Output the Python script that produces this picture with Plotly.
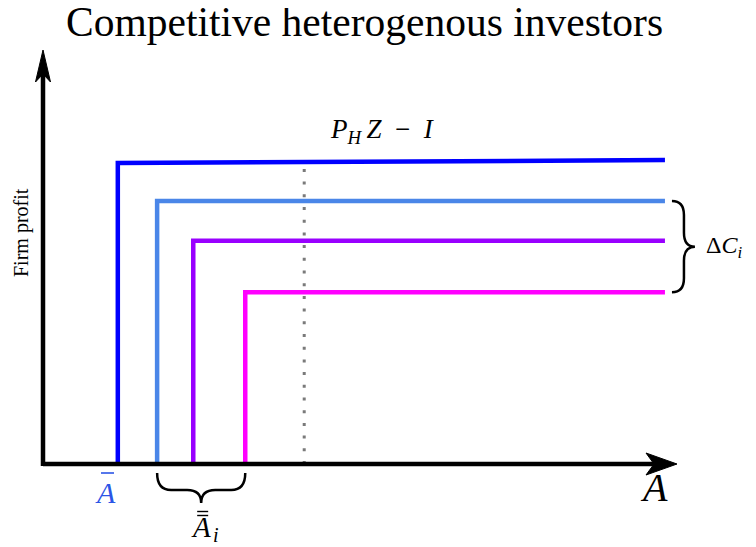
import plotly.graph_objects as go

# ---------------- data ----------------
investors = ["investor 1", "investor 2", "investor 3", "investor 4"]
entry_A = [1.18, 1.80, 2.37, 3.19]          # threshold A where each investor starts funding
profit_at_entry = [7.27, 6.35, 5.39, 4.15]  # firm profit once funded
profit_at_end = [7.34, 6.35, 5.39, 4.15]
A_end = 9.81
colors = ["#0000FF", "#4A86E8", "#9900FF", "#FF00FF"]
ref_A = 4.12        # dotted reference line
ref_top = 7.2
axis_x_len = 10.0
axis_y_len = 10.0

title_text = "Competitive heterogenous investors"
y_label = "Firm profit"

# ---------------- geometry helpers ----------------
W, H = 756, 547
OFF = 8                # page body margin
X0, Y0 = 43 - OFF, 464 - OFF   # figure pixel position of origin
SX, SY = 63.4, 41.4    # pixels per data unit
x_range = [-X0 / SX, (W - X0) / SX]
y_range = [-(H - Y0) / SY, Y0 / SY]


def dx(p):
    return p / SX


def dy(p):
    return p / SY


def rx(p):  # on-screen pixel -> data x
    return (p - 43) / SX


def ry(p):  # on-screen pixel -> data y
    return (464 - p) / SY


fig = go.Figure()

# dotted reference
fig.add_trace(go.Scatter(x=[ref_A, ref_A], y=[0, ref_top], mode="lines",
                         line=dict(color="#7a7a7a", width=3, dash="3px,9.7px"),
                         hoverinfo="skip", showlegend=False))

# investor profit curves
for name, a, p0, p1, c in zip(investors, entry_A, profit_at_entry, profit_at_end, colors):
    fig.add_trace(go.Scatter(x=[a, a, A_end], y=[0, p0, p1], mode="lines",
                             line=dict(color=c, width=4.5), name=name,
                             hoverinfo="skip", showlegend=False))

shapes = []
# axes lines
shapes.append(dict(type="line", xref="x", yref="y", x0=0, y0=0, x1=axis_x_len - dx(22), y1=0,
                   line=dict(color="black", width=4.5)))
shapes.append(dict(type="line", xref="x", yref="y", x0=0, y0=-dy(2), x1=0, y1=axis_y_len - dy(24),
                   line=dict(color="black", width=4.5)))
# arrow heads
tx, ty = axis_x_len, 0
px = (f"M {tx},{ty} L {tx - dx(31)},{ty + dy(11)} L {tx - dx(23)},{ty} "
      f"L {tx - dx(31)},{ty - dy(11)} Z")
shapes.append(dict(type="path", xref="x", yref="y", path=px, fillcolor="black",
                   line=dict(color="black", width=1)))
tx, ty = 0, axis_y_len
py = (f"M {tx},{ty} L {tx - dx(7.5)},{ty - dy(32)} L {tx},{ty - dy(24)} "
      f"L {tx + dx(7.5)},{ty - dy(32)} Z")
shapes.append(dict(type="path", xref="x", yref="y", path=py, fillcolor="black",
                   line=dict(color="black", width=1)))

# bottom curly brace, spanning investors 2..4 entry points
x1, x2 = entry_A[1], entry_A[3]
xm = (x1 + x2) / 2
yt, ym, yb = -dy(9), -dy(26), -dy(39)
r = dx(14)
bb = (f"M {x1},{yt} Q {x1},{ym} {x1 + r},{ym} L {xm - r},{ym} Q {xm},{ym} {xm},{yb} "
      f"Q {xm},{ym} {xm + r},{ym} L {x2 - r},{ym} Q {x2},{ym} {x2},{yt}")
shapes.append(dict(type="path", xref="x", yref="y", path=bb,
                   line=dict(color="black", width=2.5)))

# right curly brace, spanning investors 2..4 profits
y1, y2 = profit_at_end[1], profit_at_end[3]
ymid = (y1 + y2) / 2
xl, xmid, xt = A_end + dx(7), A_end + dx(19), A_end + dx(30)
r = dy(14)
rb = (f"M {xl},{y1} Q {xmid},{y1} {xmid},{y1 - r} L {xmid},{ymid + r} Q {xmid},{ymid} {xt},{ymid} "
      f"Q {xmid},{ymid} {xmid},{ymid - r} L {xmid},{y2 + r} Q {xmid},{y2} {xl},{y2}")
shapes.append(dict(type="path", xref="x", yref="y", path=rb,
                   line=dict(color="black", width=2.5)))

# bars over the A labels
abar_color = "#2B55E6"
shapes.append(dict(type="line", xref="x", yref="y", x0=rx(101), x1=rx(114), y0=ry(473), y1=ry(473),
                   line=dict(color=abar_color, width=1.6)))
for yb_ in (511.5, 515.5):
    shapes.append(dict(type="line", xref="x", yref="y", x0=xm - dx(4), x1=xm + dx(7),
                       y0=ry(yb_), y1=ry(yb_), line=dict(color="black", width=1.4)))

serif = "Liberation Serif"
ann = []
ann.append(dict(x=rx(364), y=ry(22), text=title_text,
                showarrow=False, font=dict(family=serif, size=41.5, color="black"),
                xanchor="center", yanchor="middle"))
ann.append(dict(x=rx(21), y=ry(233), text=y_label, textangle=-90,
                showarrow=False, font=dict(family=serif, size=20, color="black"),
                xanchor="center", yanchor="middle"))
ann.append(dict(x=ref_A + dx(78), y=ry(131),
                text="<i>P</i><sub><i>H</i></sub>\u2009<i>Z</i>\u2002−\u2002<i>I</i>",
                showarrow=False, font=dict(family=serif, size=27, color="black"),
                xanchor="center", yanchor="middle"))
ann.append(dict(x=xt + dx(9), y=ry(247), text="Δ<i>C</i><sub><i>i</i></sub>",
                showarrow=False, font=dict(family=serif, size=24, color="black"),
                xanchor="left", yanchor="middle"))
ann.append(dict(x=rx(105), y=ry(492), text="A",
                showarrow=False, font=dict(family=serif, size=30, color=abar_color, style="italic"),
                xanchor="center", yanchor="middle"))
ann.append(dict(x=xm, y=ry(527), text="A",
                showarrow=False, font=dict(family=serif, size=29, color="black", style="italic"),
                xanchor="center", yanchor="middle"))
ann.append(dict(x=xm + dx(15), y=ry(535), text="i",
                showarrow=False, font=dict(family=serif, size=20, color="black", style="italic"),
                xanchor="center", yanchor="middle"))
ann.append(dict(x=rx(654), y=ry(487), text="A",
                showarrow=False, font=dict(family=serif, size=40, color="black", style="italic"),
                xanchor="center", yanchor="middle"))

fig.update_layout(
    width=W, height=H,
    margin=dict(l=0, r=0, t=0, b=0),
    paper_bgcolor="white", plot_bgcolor="white",
    xaxis=dict(range=x_range, visible=False, fixedrange=True),
    yaxis=dict(range=y_range, visible=False, fixedrange=True),
    shapes=shapes, annotations=ann, showlegend=False,
)

fig.write_html("out.html")
